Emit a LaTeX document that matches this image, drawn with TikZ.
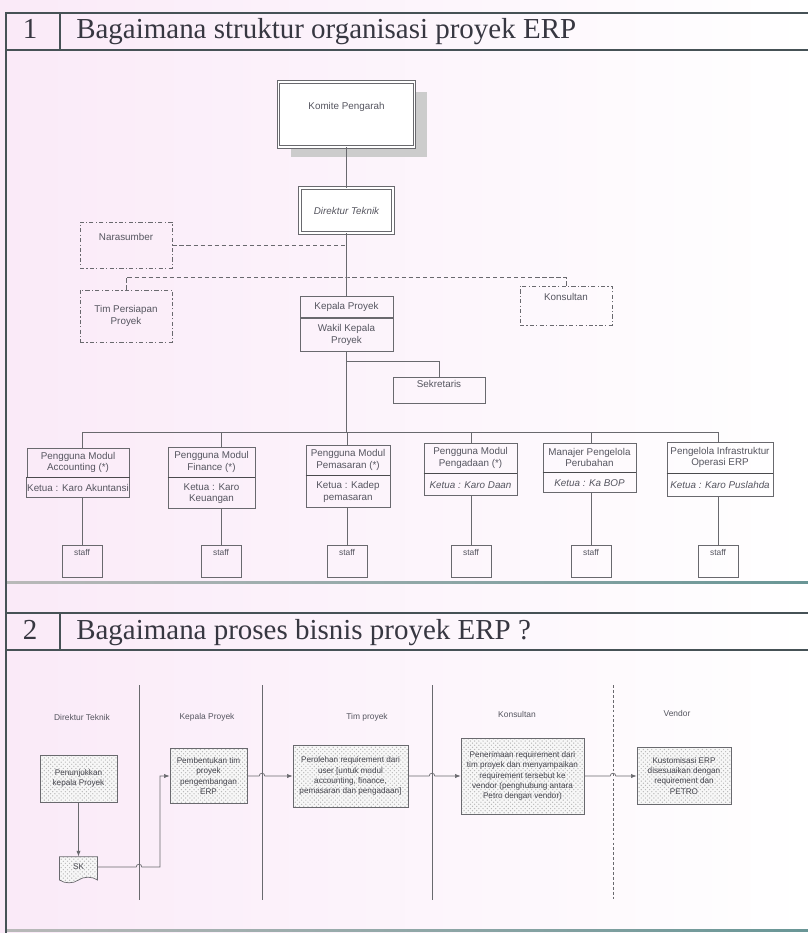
\documentclass[tikz,border=0pt]{standalone}
\usepackage{fontspec}
\setmainfont{Liberation Serif}
\newfontfamily\orgfont{Liberation Sans}
\usepackage{tikz}
\usetikzlibrary{positioning, arrows.meta, shapes.symbols, patterns, shadows, calc}
\definecolor{linegray}{RGB}{105,105,110}
\definecolor{txtgray}{RGB}{85,85,95}
\definecolor{headgray}{RGB}{70,82,86}
\definecolor{headtxt}{RGB}{55,55,65}
\definecolor{bgpink}{RGB}{250,234,248}
\definecolor{edgeteal}{RGB}{105,150,150}

\begin{document}
\begin{tikzpicture}[
  x=0.025cm, y=-0.025cm,
  boxsize/.style 2 args={minimum width=#1*0.025cm, minimum height=#2*0.025cm},
  orgbox/.style={draw=linegray, line width=0.6pt, font=\orgfont\fontsize{7}{8}\selectfont,
                 text=txtgray, align=center, inner sep=0.5pt},
  dblbox/.style={orgbox, fill=white, double=white, double distance=1.2pt, line width=0.7pt},
  dashbox/.style={orgbox, dash pattern=on 3pt off 1.6pt on 0.8pt off 1.6pt},
  staffbox/.style={orgbox, boxsize={40}{32}, font=\orgfont\fontsize{6}{7}\selectfont,
                   text height=4.5pt, text depth=12pt},
  procbox/.style={draw=linegray, line width=0.5pt, preaction={fill=gray!6},
                  pattern=crosshatch dots, pattern color=gray!55,
                  font=\orgfont\fontsize{5.8}{7.2}\selectfont, text=txtgray!80!black,
                  align=center, inner sep=0.5pt},
  lanetitle/.style={font=\orgfont\fontsize{6}{7}\selectfont, text=txtgray},
  headtext/.style={font=\fontsize{20.6}{24}\selectfont, text=headtxt, inner sep=0pt},
  sectionline/.style={draw=headgray, line width=1pt},
  link/.style={draw=linegray, line width=0.6pt},
  dashlink/.style={link, dash pattern=on 3pt off 2pt},
  sepline/.style={draw=linegray!70!black, line width=1pt},
  flow/.style={draw=linegray, line width=0.5pt, -{Latex[length=4pt, width=3pt]}},
]
  \useasboundingbox (0,0) rectangle (808,933);
  \fill[left color=bgpink, right color=white] (0,0) rectangle (808,933);

  % Section frames
  \draw[sectionline] (808,13) -- (6,13) -- (6,933);
  \draw[sectionline] (6,50) -- (808,50);
  \draw[sectionline] (60,13) -- (60,50);
  \draw[sectionline] (6,613) -- (808,613);
  \draw[sectionline] (6,650) -- (808,650);
  \draw[sectionline] (60,613) -- (60,650);
  \fill[left color=gray!55, right color=edgeteal] (7,581) rectangle (808,583);
  \fill[left color=gray!55, right color=edgeteal] (7,929) rectangle (808,931);

  % Headings
  \node[headtext, anchor=base] (num1) at (30,39) {1};
  \node[headtext, anchor=base west] (title1) at (76,39) {Bagaimana struktur organisasi proyek ERP};
  \node[headtext, anchor=base] (num2) at (30,639) {2};
  \node[headtext, anchor=base west] (title2) at (76,639) {Bagaimana proses bisnis proyek ERP ?};

  % Organisation chart
  \node[dblbox, boxsize={136}{65}, text height=5pt, text depth=12pt,
        general shadow={fill=gray!40, shadow xshift=9pt, shadow yshift=-7pt}]
        (komite) at (346.5,114.5) {Komite Pengarah};
  \node[dblbox, boxsize={93}{45}, font=\orgfont\itshape\fontsize{7}{8}\selectfont]
        (direktur) at (346.5,210.5) {Direktur Teknik};
  \node[dashbox, boxsize={92}{46}, text height=5pt, text depth=12pt] (nara) at (126,245) {Narasumber};
  \node[dashbox, boxsize={92}{52}] (tim) at (126,316) {Tim Persiapan\\Proyek};
  \node[dashbox, boxsize={92}{39}, text height=5pt, text depth=12pt] (kons) at (566,305.5) {Konsultan};
  \node[orgbox, boxsize={93}{21}] (kepala) at (346.5,307) {Kepala Proyek};
  \node[orgbox, boxsize={93}{33}, below=0pt of kepala] (wakil) {Wakil Kepala\\Proyek};
  \node[orgbox, boxsize={92}{26}, text height=5pt, text depth=9pt] (sekr) at (439,390) {Sekretaris};
  \coordinate (dbus) at (346.5,277);
  \coordinate (sj) at (346.5,361);
  \coordinate (bus) at (346.5,432);

  \draw[link] (komite.south) -- (direktur.north);
  \draw[link] (direktur.south) -- (kepala.north);
  \draw[dashlink] (nara.east) -- (nara.east -| direktur.south);
  \draw[dashlink] (tim.north) |- (dbus) -| (kons.north);
  \draw[link] (wakil.south) -- (bus);
  \draw[link] (sj) -| (sekr.north);

  % Module users
  \node[orgbox, boxsize={102}{29}] (mod1) at (78,462.5) {Pengguna Modul\\Accounting (*)};
  \node[orgbox, boxsize={102}{20}, below=0pt of mod1] (ket1) {Ketua : Karo Akuntansi};
  \node[orgbox, boxsize={87}{30}] (mod2) at (211.5,462) {Pengguna Modul\\Finance (*)};
  \node[orgbox, boxsize={87}{31}, below=0pt of mod2] (ket2) {Ketua : Karo\\Keuangan};
  \node[orgbox, boxsize={84}{30}] (mod3) at (348,460) {Pengguna Modul\\Pemasaran (*)};
  \node[orgbox, boxsize={84}{32}, below=0pt of mod3] (ket3) {Ketua : Kadep\\pemasaran};
  \node[orgbox, boxsize={93}{30}] (mod4) at (470.5,458) {Pengguna Modul\\Pengadaan (*)};
  \node[orgbox, boxsize={93}{22}, below=0pt of mod4, font=\orgfont\itshape\fontsize{7}{8}\selectfont] (ket4) {Ketua : Karo Daan};
  \node[orgbox, boxsize={93}{29}] (mod5) at (589.5,457.5) {Manajer Pengelola\\Perubahan};
  \node[orgbox, boxsize={93}{20}, below=0pt of mod5, font=\orgfont\itshape\fontsize{7}{8}\selectfont] (ket5) {Ketua : Ka BOP};
  \node[orgbox, boxsize={106}{31}] (mod6) at (720,457.5) {Pengelola Infrastruktur\\Operasi ERP};
  \node[orgbox, boxsize={106}{23}, below=0pt of mod6, font=\orgfont\itshape\fontsize{7}{8}\selectfont] (ket6) {Ketua : Karo Puslahda};

  \foreach \x [count=\i] in {82,221,347,471,591,718}
    \node[staffbox] (staff\i) at (\x,561) {staff};

  \draw[link] (staff1.north |- bus) -- (staff6.north |- bus);
  \foreach \i in {1,...,6} {
    \draw[link] (staff\i.north |- bus) -- (staff\i.north |- mod\i.north);
    \draw[link] (staff\i.north |- ket\i.south) -- (staff\i.north);
    \draw[sepline] (ket\i.north west) -- (ket\i.north east);
  }

  % Swimlanes
  \foreach \x in {139,262,432}
    \draw[link] (\x,685) -- (\x,900);
  \draw[link, dash pattern=on 2pt off 1.5pt] (613,685) -- (613,900);

  \node[lanetitle] (lane1) at (82,717) {Direktur Teknik};
  \node[lanetitle] (lane2) at (207,717) {Kepala Proyek};
  \node[lanetitle] (lane3) at (367,717) {Tim proyek};
  \node[lanetitle] (lane4) at (517,714) {Konsultan};
  \node[lanetitle] (lane5) at (677,713) {Vendor};

  % Process steps
  \node[procbox, boxsize={77}{47}] (pk) at (78.5,778.5) {Penunjukkan\\kepala Proyek};
  \node[procbox, tape, tape bend top=none, tape bend height=4pt, boxsize={38}{26}] (sk) at (78.5,867) {SK};
  \node[procbox, boxsize={77}{55}] (pb) at (208.5,776) {Pembentukan tim\\proyek\\pengembangan\\ERP};
  \node[procbox, boxsize={115}{62}] (pr) at (350.5,776) {Perolehan requirement dari\\user [untuk modul\\accounting, finance,\\pemasaran dan pengadaan]};
  \node[procbox, boxsize={123}{76}] (ks) at (522.5,776) {Penerimaan requirement dari\\tim proyek dan menyampaikan\\requirement tersebut ke\\vendor (penghubung antara\\Petro dengan vendor)};
  \node[procbox, boxsize={94}{57}] (kv) at (684,776) {Kustomisasi ERP\\disesuaikan dengan\\requirement dan\\PETRO};

  \draw[flow] (pk.south) -- (sk.north);
  \draw[flow] (sk.east) -- ($(139,867)+(-2pt,0)$) arc[start angle=180, end angle=0, radius=2pt]
    -- (160,867) |- (pb.west);
  \draw[flow] (pb.east) -- ($(262,776)+(-2pt,0)$) arc[start angle=180, end angle=0, radius=2pt] -- (pr.west);
  \draw[flow] (pr.east) -- ($(432,776)+(-2pt,0)$) arc[start angle=180, end angle=0, radius=2pt] -- (ks.west);
  \draw[flow] (ks.east) -- ($(613,776)+(-2pt,0)$) arc[start angle=180, end angle=0, radius=2pt] -- (kv.west);
\end{tikzpicture}
\end{document}
